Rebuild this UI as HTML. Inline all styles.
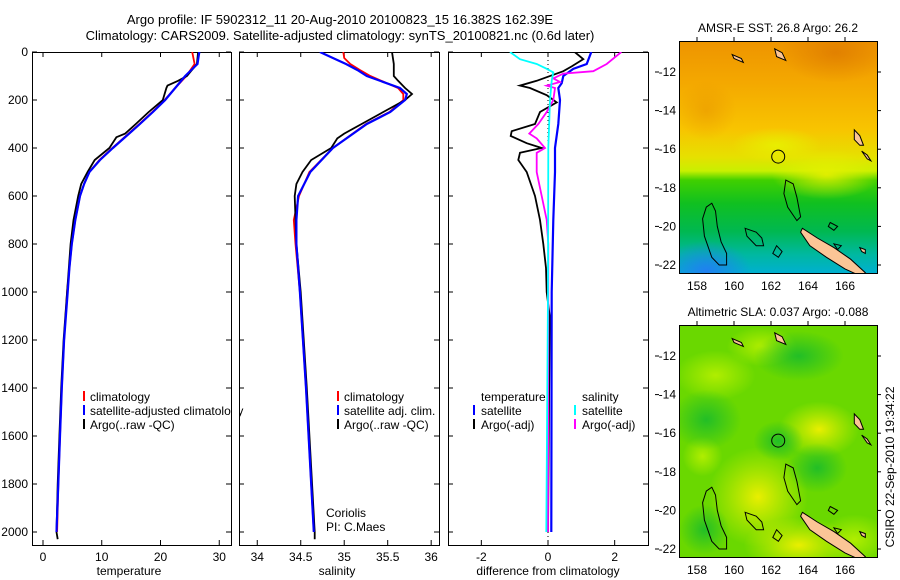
<!DOCTYPE html>
<html><head><meta charset="utf-8"><style>
body{margin:0;background:#fff;}
svg{display:block;font-family:"Liberation Sans",sans-serif;}
</style></head><body>
<svg id="fig" width="900" height="580" viewBox="0 0 900 580">
<defs>
<clipPath id="cp1"><rect x="32" y="52" width="199" height="493"/></clipPath>
<clipPath id="cp2"><rect x="239" y="52" width="200" height="493"/></clipPath>
<clipPath id="cp3"><rect x="448" y="52" width="200" height="493"/></clipPath>
<clipPath id="cm1"><rect x="679" y="41" width="198" height="232"/></clipPath>
<clipPath id="cm2"><rect x="679" y="325" width="198" height="232"/></clipPath>
<linearGradient id="sstg" x1="0" y1="0" x2="0" y2="1">
<stop offset="0" stop-color="#ee9400"/><stop offset="0.18" stop-color="#f4a800"/><stop offset="0.38" stop-color="#f8c400"/>
<stop offset="0.5" stop-color="#e6e000"/><stop offset="0.56" stop-color="#c8f000"/><stop offset="0.6" stop-color="#40d000"/>
<stop offset="0.7" stop-color="#10c020"/><stop offset="0.82" stop-color="#00b850"/><stop offset="0.92" stop-color="#00b8a0"/><stop offset="1" stop-color="#00b0d0"/>
</linearGradient>
<radialGradient id="sstdark"><stop offset="0" stop-color="#d87000" stop-opacity="0.6"/><stop offset="1" stop-color="#d87000" stop-opacity="0"/></radialGradient>
<radialGradient id="sstdark2"><stop offset="0" stop-color="#e08000" stop-opacity="0.35"/><stop offset="1" stop-color="#e08000" stop-opacity="0"/></radialGradient>
<radialGradient id="sstyel"><stop offset="0" stop-color="#e8f000" stop-opacity="0.9"/><stop offset="1" stop-color="#e8f000" stop-opacity="0"/></radialGradient>
<radialGradient id="sstblue"><stop offset="0" stop-color="#2080f0" stop-opacity="1"/><stop offset="1" stop-color="#2080f0" stop-opacity="0"/></radialGradient>
<radialGradient id="slayel"><stop offset="0" stop-color="#f0f000" stop-opacity="0.95"/><stop offset="1" stop-color="#d8f000" stop-opacity="0"/></radialGradient>
<radialGradient id="slagr"><stop offset="0" stop-color="#10b830" stop-opacity="0.8"/><stop offset="1" stop-color="#10b830" stop-opacity="0"/></radialGradient>
<radialGradient id="slalt"><stop offset="0" stop-color="#b8f000" stop-opacity="0.9"/><stop offset="1" stop-color="#b8f000" stop-opacity="0"/></radialGradient>
</defs>

<text x="340" y="24" font-size="13" text-anchor="middle">Argo profile: IF 5902312_11 20-Aug-2010 20100823_15 16.382S 162.39E</text>
<text x="340" y="40" font-size="13" text-anchor="middle">Climatology: CARS2009. Satellite-adjusted climatology: synTS_20100821.nc (0.6d later)</text>

<g id="panels"></g>
<g id="maps"></g>

<text x="129" y="575" font-size="12" text-anchor="middle">temperature</text>
<text x="337" y="575" font-size="12" text-anchor="middle">salinity</text>
<text x="548" y="575" font-size="12" text-anchor="middle">difference from climatology</text>

<g font-size="12">
<rect x="83" y="391" width="2" height="10" fill="#f00"/><text x="90" y="401">climatology</text>
<rect x="83" y="405" width="2" height="10" fill="#00f"/><text x="90" y="415">satellite-adjusted climatology</text>
<rect x="83" y="419" width="2" height="10" fill="#000"/><text x="90" y="429">Argo(..raw -QC)</text>
</g>
<rect x="232" y="380" width="7" height="60" fill="#fff"/>
<line x1="231.5" y1="52" x2="231.5" y2="545" stroke="#000"/>
<g font-size="12">
<rect x="337" y="391" width="2" height="10" fill="#f00"/><text x="344" y="401">climatology</text>
<rect x="337" y="405" width="2" height="10" fill="#00f"/><text x="344" y="415">satellite adj. clim.</text>
<rect x="337" y="419" width="2" height="10" fill="#000"/><text x="344" y="429">Argo(..raw -QC)</text>
</g>
<g font-size="12">
<text x="326" y="517">Coriolis</text><text x="326" y="531">PI: C.Maes</text>
</g>
<g font-size="12">
<text x="481" y="401">temperature</text>
<rect x="473" y="405" width="2" height="10" fill="#00f"/><text x="481" y="415">satellite</text>
<rect x="473" y="419" width="2" height="10" fill="#000"/><text x="481" y="429">Argo(-adj)</text>
<text x="582" y="401">salinity</text>
<rect x="574" y="405" width="2" height="10" fill="#0ff"/><text x="582" y="415">satellite</text>
<rect x="574" y="419" width="2" height="10" fill="#f0f"/><text x="582" y="429">Argo(-adj)</text>
</g>

<text transform="translate(894,467) rotate(-90)" font-size="12" text-anchor="middle">CSIRO 22-Sep-2010 19:34:22</text>
</svg>

<script>
// ---- depth axis ticks ----
const depthTicks = [0,200,400,600,800,1000,1200,1400,1600,1800,2000];
// ---- temperature panel data ----
const tempTicks = [0,10,20,30];
const tClimDepth = [0,50,100,150,200,250,300,350,400,450,500,550,600,700,800,900,1000,1200,1400,1600,1800,2000];
const tClim = [25.4,25.8,24.4,22.5,20.7,18.6,16.4,14.1,11.8,9.6,7.9,7.0,6.3,5.5,4.9,4.5,4.1,3.6,3.2,2.9,2.6,2.4];
const tSatDepth = [0,50,100,150,200,250,300,350,400,450,500,550,600,700,800,900,1000,1200,1400,1600,1800,2000];
const tSat = [26.6,26.3,24.2,22.5,20.8,18.7,16.5,14.2,11.9,9.7,7.9,7.0,6.3,5.5,4.9,4.5,4.2,3.6,3.2,2.9,2.6,2.3];
const tArgoDepth = [0,50,100,120,140,150,200,250,300,340,355,400,450,500,550,600,700,800,1000,1200,1400,1600,1800,2000,2030];
const tArgo = [26.4,26.2,24.5,23.0,21.2,21.0,20.4,18.0,15.8,14.0,12.5,11.3,8.8,7.6,6.5,6.0,5.2,4.7,4.1,3.5,3.1,2.8,2.5,2.3,2.5];
// ---- salinity panel data ----
const salTicks = [34,34.5,35,35.5,36];
const sClimDepth = [0,25,50,75,100,150,175,200,250,300,400,500,600,700,800,1000,1400,2000];
const sClim = [34.99,35.0,35.07,35.18,35.3,35.62,35.68,35.68,35.52,35.25,34.87,34.6,34.48,34.42,34.44,34.49,34.56,34.65];
const sSatDepth = [0,25,50,75,100,150,175,200,250,300,400,500,600,700,800,1000,1400,2000];
const sSat = [34.72,34.87,35.02,35.15,35.26,35.64,35.72,35.70,35.53,35.26,34.87,34.61,34.47,34.45,34.45,34.49,34.56,34.65];
const sArgoDepth = [0,50,100,120,150,175,200,250,300,340,360,400,450,500,550,600,800,1000,1400,2000,2030];
const sArgo = [35.55,35.57,35.57,35.62,35.70,35.78,35.70,35.45,35.2,35.0,34.92,34.85,34.62,34.52,34.45,34.43,34.45,34.5,34.57,34.66,34.66];
// ---- difference panel data ----
const diffTicks = [-2,0,2];
const dTSatDepth = [0,50,70,100,130,150,200,300,400,500,700,1000,2000];
const dTSat = [1.3,1.16,0.76,0.46,0.41,0.31,0.36,0.31,0.21,0.21,0.16,0.11,0.1];
const dTArgoDepth = [0,30,60,80,120,140,150,180,210,250,300,330,350,380,400,420,450,500,600,700,800,900,1000,1100,2000];
const dTArgo = [0.8,1.06,0.71,0.46,-0.34,-0.84,-0.54,-0.04,0.26,-0.24,-0.39,-1.09,-1.12,-0.64,-0.19,-0.84,-0.89,-0.64,-0.39,-0.24,-0.14,-0.06,-0.04,0.05,0.0];
const dSArgoDepth = [0,50,80,90,110,125,140,150,200,250,300,340,360,400,420,500,600,700,800,2000];
const dSArgo = [2.2,1.76,1.36,0.46,0.16,0.36,-0.04,0.21,0.16,-0.04,-0.29,-0.56,-0.34,-0.09,-0.34,-0.34,-0.19,-0.04,0.01,0.0];
const dSSatDepth = [0,30,50,70,85,120,200,400,1000,2000];
const dSSat = [-1.14,-0.84,-0.34,-0.04,0.16,0.11,0.06,0.01,0.0,-0.05];

const NS = 'http://www.w3.org/2000/svg';
const panelsG = document.getElementById('panels');
const Y0 = 52, Y1 = 545;
function yDepth(d){ return 52 + d * 0.24; }
function mk(tag, attrs, parent){ const e = document.createElementNS(NS, tag); for (const k in attrs) e.setAttribute(k, attrs[k]); parent.appendChild(e); return e; }

function panel(name, x0, x1, vmin, vmax, ticks, tickLabels, series, clip){
  const g = mk('g', {}, panelsG);
  
  
  const xs = v => x0 + (v - vmin) / (vmax - vmin) * (x1 - x0);
  const frame = mk('rect', {x:x0+0.5, y:Y0+0.5, width:x1-x0, height:Y1-Y0, fill:'none', stroke:'#000'}, g);
  
  
  ticks.forEach((t,i) => {
    const x = xs(t);
    mk('line', {x1:x, y1:Y1, x2:x, y2:Y1-5, stroke:'#000'}, g);
    mk('line', {x1:x, y1:Y0, x2:x, y2:Y0+5, stroke:'#000'}, g);
    const lb = mk('text', {x:x, y:Y1+16, 'font-size':12, 'text-anchor':'middle'}, g);
    lb.textContent = tickLabels[i];
    
    
  });
  depthTicks.forEach(d => {
    const y = yDepth(d);
    mk('line', {x1:x0, y1:y, x2:x0+5, y2:y, stroke:'#000'}, g);
    mk('line', {x1:x1, y1:y, x2:x1-5, y2:y, stroke:'#000'}, g);
  });
  const lg = mk('g', {'clip-path':'url(#'+clip+')'}, g);
  series.forEach(s => {
    if (s.zero){
      const zl = mk('line', {x1:xs(0), y1:Y0, x2:xs(0), y2:Y1, stroke:'#000', 'stroke-dasharray':'1,3'}, lg);
      
      
      return;
    }
    const pts = s.depth.map((d,i) => xs(s.vals[i]).toFixed(1) + ',' + yDepth(d).toFixed(1)).join(' ');
    const pl = mk('polyline', {points:pts, fill:'none', stroke:s.color, 'stroke-width':s.w}, lg);
    
    
  });
  return g;
}

const dl = mk('g', {'font-size':12, 'text-anchor':'end'}, panelsG);


depthTicks.forEach(d => { const t = mk('text', {x:28, y:yDepth(d)+4}, dl); t.textContent = d; });

panel('temperature', 32, 231, -1.87, 32.0, tempTicks, tempTicks.map(String), [
  {name:'temp-climatology-line', depth:tClimDepth, vals:tClim, color:'#f00', w:1.8},
  {name:'temp-argo-line', depth:tArgoDepth, vals:tArgo, color:'#000', w:1.8},
  {name:'temp-satellite-line', depth:tSatDepth, vals:tSat, color:'#00f', w:2.2}
], 'cp1');
panel('salinity', 239, 439, 33.79, 36.09, salTicks, ['34','34.5','35','35.5','36'], [
  {name:'sal-climatology-line', depth:sClimDepth, vals:sClim, color:'#f00', w:1.8},
  {name:'sal-argo-line', depth:sArgoDepth, vals:sArgo, color:'#000', w:1.8},
  {name:'sal-satellite-line', depth:sSatDepth, vals:sSat, color:'#00f', w:2.2}
], 'cp2');
panel('difference', 448, 648, -3.0, 3.0, diffTicks, ['-2','0','2'], [
  {zero:true},
  {name:'diff-temp-argo-line', depth:dTArgoDepth, vals:dTArgo, color:'#000', w:1.8},
  {name:'diff-temp-satellite-line', depth:dTSatDepth, vals:dTSat, color:'#00f', w:2.2},
  {name:'diff-sal-argo-line', depth:dSArgoDepth, vals:dSArgo, color:'#f0f', w:1.8},
  {name:'diff-sal-satellite-line', depth:dSSatDepth, vals:dSSat, color:'#0ff', w:1.8}
], 'cp3');

// ---- maps ----
const mapsG = document.getElementById('maps');
const lonTicks = [158,160,162,164,166];
const latTicks = [12,14,16,18,20,22];
const argoLon = 162.39, argoLat = 16.382;
function lonX(l){ return 697 + (l - 158) * 18.5; }

function drawMap(name, top, lat12y, title, clip, bg){
  const latY = la => lat12y + (la - 12) * 19.3;
  const g = mk('g', {}, mapsG);
  
  
  const tt = mk('text', {x:778, y:top-9, 'font-size':12, 'text-anchor':'middle'}, g);
  tt.textContent = title;
  
  
  const cg = mk('g', {'clip-path':'url(#'+clip+')'}, g);
  bg(cg, latY);
  const land = (pts, fill) => mk('polygon', {points: pts.map(q => lonX(q[0]).toFixed(1)+','+latY(q[1]).toFixed(1)).join(' '), fill:fill, stroke:'#000', 'stroke-width':1}, cg);
  const nc = land([[163.7,20.1],[164.5,20.6],[165.4,21.1],[166.3,21.7],[167.1,22.4],[166.9,22.6],[166.0,22.2],[165.0,21.6],[164.1,21.0],[163.6,20.3]], '#fbc596');
  
  
  land([[166.5,15.0],[166.8,15.3],[167.0,15.8],[166.8,15.8],[166.5,15.5]], '#fbc596');
  land([[166.9,16.1],[167.2,16.3],[167.4,16.6],[167.2,16.5]], '#fbc596');
  land([[162.2,10.8],[162.6,11.0],[162.8,11.4],[162.3,11.2]], '#fbc596');
  land([[159.9,11.1],[160.4,11.3],[160.5,11.5],[160.0,11.3]], '#fbc596');
  land([[166.8,21.1],[167.1,21.2],[167.1,21.4],[166.9,21.3]], '#fbc596');
  const reef = pts => mk('polygon', {points: pts.map(q => lonX(q[0]).toFixed(1)+','+latY(q[1]).toFixed(1)).join(' '), fill:'none', stroke:'#000', 'stroke-width':1}, cg);
  reef([[158.8,18.8],[159.0,19.2],[159.1,20.0],[159.3,20.8],[159.6,21.4],[159.6,22.0],[159.2,22.0],[158.8,21.6],[158.4,20.5],[158.3,19.6],[158.5,19.0]]);
  reef([[160.6,20.1],[161.2,20.3],[161.5,20.6],[161.6,21.0],[161.2,21.0],[160.7,20.5]]);
  reef([[162.8,17.6],[163.2,17.8],[163.4,18.5],[163.6,19.5],[163.4,19.7],[162.9,19.0],[162.7,18.3]]);
  reef([[162.3,21.0],[162.6,21.3],[162.4,21.6],[162.1,21.4]]);
  reef([[165.2,19.8],[165.6,20.0],[165.4,20.2],[165.1,20.0]]);
  reef([[165.4,20.9],[165.8,21.0],[165.6,21.2]]);
  const c = mk('circle', {cx:lonX(argoLon), cy:latY(argoLat), r:6.5, fill:'none', stroke:'#000', 'stroke-width':1}, cg);
  
  
  const f = mk('rect', {x:679.5, y:top+0.5, width:198, height:232, fill:'none', stroke:'#000'}, g);
  
  
  lonTicks.forEach(l => {
    const x = lonX(l);
    mk('line', {x1:x, y1:top, x2:x, y2:top-4, stroke:'#000'}, g);
    const t = mk('text', {x:x, y:top+249, 'font-size':12, 'text-anchor':'middle'}, g);
    t.textContent = l;
  });
  latTicks.forEach(la => {
    const y = latY(la);
    mk('line', {x1:877, y1:y, x2:881, y2:y, stroke:'#000'}, g);
    mk('line', {x1:655, y1:y, x2:659, y2:y, stroke:'#000'}, g);
    const t = mk('text', {x:676, y:y+4, 'font-size':12, 'text-anchor':'end'}, g);
    t.textContent = '-' + la;
  });
}

drawMap('sst-map', 41, 72, 'AMSR-E SST: 26.8 Argo: 26.2', 'cm1', (cg, latY) => {
  mk('rect', {x:679, y:41, width:198, height:232, fill:'url(#sstg)'}, cg);
  mk('ellipse', {cx:lonX(165.5), cy:latY(11), rx:55, ry:30, fill:'url(#sstdark)'}, cg);
  mk('ellipse', {cx:lonX(158.5), cy:latY(14), rx:30, ry:30, fill:'url(#sstdark2)'}, cg);
  mk('ellipse', {cx:lonX(165), cy:latY(17.3), rx:55, ry:25, fill:'url(#sstyel)'}, cg);
  mk('ellipse', {cx:lonX(162.3), cy:latY(15.8), rx:45, ry:18, fill:'url(#sstyel)'}, cg);
  mk('ellipse', {cx:lonX(158.5), cy:latY(22.3), rx:45, ry:30, fill:'url(#sstblue)'}, cg);
});
drawMap('sla-map', 325, 356, 'Altimetric SLA: 0.037 Argo: -0.088', 'cm2', (cg, latY) => {
  mk('rect', {x:679, y:325, width:198, height:232, fill:'#6ad800'}, cg);
  mk('ellipse', {cx:lonX(159), cy:latY(13), rx:40, ry:25, fill:'url(#slalt)'}, cg);
  mk('ellipse', {cx:lonX(161.5), cy:latY(11.5), rx:35, ry:20, fill:'url(#slalt)'}, cg);
  mk('ellipse', {cx:lonX(164.6), cy:latY(15.8), rx:40, ry:28, fill:'url(#slayel)'}, cg);
  mk('ellipse', {cx:lonX(161.3), cy:latY(19.3), rx:50, ry:50, fill:'url(#slayel)'}, cg);
  mk('ellipse', {cx:lonX(163.5), cy:latY(21.8), rx:55, ry:28, fill:'url(#slayel)'}, cg);
  mk('ellipse', {cx:lonX(166.5), cy:latY(21.5), rx:35, ry:25, fill:'url(#slalt)'}, cg);
  mk('ellipse', {cx:lonX(158.3), cy:latY(17.2), rx:20, ry:20, fill:'url(#slalt)'}, cg);
  mk('ellipse', {cx:lonX(158.5), cy:latY(15.3), rx:35, ry:30, fill:'url(#slagr)'}, cg);
  mk('ellipse', {cx:lonX(164.5), cy:latY(17.8), rx:30, ry:25, fill:'url(#slagr)'}, cg);
  mk('ellipse', {cx:lonX(163.5), cy:latY(12), rx:45, ry:25, fill:'url(#slagr)'}, cg);
  mk('ellipse', {cx:lonX(162.4), cy:latY(16.4), rx:25, ry:20, fill:'url(#slagr)'}, cg);
  mk('ellipse', {cx:lonX(158.4), cy:latY(21), rx:25, ry:25, fill:'url(#slagr)'}, cg);
});
</script>
</body></html>
